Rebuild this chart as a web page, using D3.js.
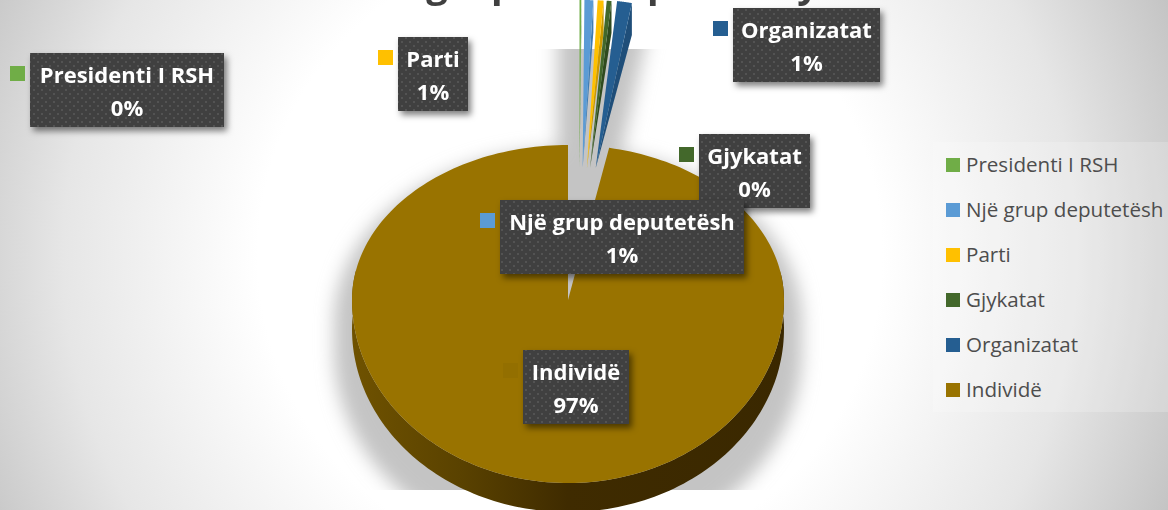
<!DOCTYPE html>
<html>
<head>
<meta charset="utf-8">
<script src="https://cdn.jsdelivr.net/npm/d3@7"></script>
<style>
body { margin: 0; background: #fff; }
svg { display: block; }
text { font-family: "Open Sans", sans-serif; }
</style>
</head>
<body>
<script>
var categories = ["Presidenti I RSH", "Një grup deputetësh", "Parti", "Gjykatat", "Organizatat", "Individë"];
var values = [0.15, 0.75, 0.5, 0.4, 1.25, 96.95];
var palette = ["#70ad47", "#5b9bd5", "#ffc000", "#43682b", "#255e91", "#997300"];
var darkPalette = ["#5a8a39", "#3f7cb3", "#cc9a00", "#2f4a1e", "#1f4e79", "#3f2b00"];
// only the descenders of the title are inside the crop
var titleLetters = ["g", "p", "p", "y"];
var titleLetterX = [437, 503, 659, 808];

var width = 1168, height = 510;
var cx = 568, cy = 300, rx = 216, ryTop = 155, ryBottom = 183, depth = 29;
var sliverRx = 190, sliverRy = 168, sliverY = 168, sliverX = 579, sliverShift = 110;

var labelX = [30, 500, 398, 699, 733, 523];
var labelX2 = [224, 744, 468, 810, 880, 629];
var labelY = [53, 200, 37, 134, 8, 350];
var labelOrder = [0, 2, 4, 3, 1, 5];

var svg = d3.select("body").append("svg").attr("width", width).attr("height", height);
var defs = svg.append("defs");

var bg = defs.append("radialGradient").attr("id", "bg").attr("gradientUnits", "userSpaceOnUse")
	.attr("cx", 570).attr("cy", 255).attr("r", 650);
bg.append("stop").attr("offset", "0.48").attr("stop-color", "#ffffff");
bg.append("stop").attr("offset", "0.78").attr("stop-color", "#e6e6e6");
bg.append("stop").attr("offset", "1").attr("stop-color", "#c4c4c4");

var wallGrad = defs.append("linearGradient").attr("id", "wall").attr("gradientUnits", "userSpaceOnUse")
	.attr("x1", cx - rx).attr("x2", cx + rx).attr("y1", 0).attr("y2", 0);
wallGrad.append("stop").attr("offset", "0").attr("stop-color", "#6f5200");
wallGrad.append("stop").attr("offset", "0.25").attr("stop-color", "#5a4200");
wallGrad.append("stop").attr("offset", "0.5").attr("stop-color", "#3f2b00");
wallGrad.append("stop").attr("offset", "1").attr("stop-color", "#3a2800");

defs.append("filter").attr("id", "pieBlur").attr("x", "-20%").attr("y", "-20%").attr("width", "140%").attr("height", "140%")
	.append("feGaussianBlur").attr("stdDeviation", 9);
defs.append("clipPath").attr("id", "plotClip").append("rect")
	.attr("x", 0).attr("y", 49).attr("width", width).attr("height", 441);

var boxShadow = defs.append("filter").attr("id", "boxShadow").attr("x", "-15%").attr("y", "-15%").attr("width", "130%").attr("height", "140%");
boxShadow.append("feDropShadow").attr("dx", 3).attr("dy", 4).attr("stdDeviation", 3)
	.attr("flood-color", "#000").attr("flood-opacity", 0.5);

var dots = defs.append("pattern").attr("id", "dots").attr("patternUnits", "userSpaceOnUse").attr("width", 8).attr("height", 8);
dots.append("rect").attr("width", 8).attr("height", 8).attr("fill", "#404040");
dots.append("rect").attr("x", 1).attr("y", 1).attr("width", 2).attr("height", 2).attr("fill", "#525252");
dots.append("rect").attr("x", 5).attr("y", 5).attr("width", 2).attr("height", 2).attr("fill", "#525252");

svg.append("rect").attr("width", width).attr("height", height).attr("fill", "url(#bg)");

// legend panel
svg.append("rect").attr("x", 933).attr("y", 142).attr("width", 235).attr("height", 270)
	.attr("fill", "#fff").attr("fill-opacity", 0.2);

var color = d3.scaleOrdinal().domain(categories).range(palette);
var dark = d3.scaleOrdinal().domain(categories).range(darkPalette);
var pie = d3.pie().sort(null).value(function(d){return d.value;}).startAngle(0).endAngle(2 * Math.PI);
var slices = pie(categories.map(function(c, i){return {name: c, value: values[i]};}));
var line = d3.line();

function topRim(a){
	var s = Math.sin(a), c = Math.cos(a);
	return [cx + rx * s, cy - c * (c > 0 ? ryTop : ryBottom)];
}
function angleSteps(a0, a1){
	return d3.range(0, 241).map(function(i){return a0 + (a1 - a0) * i / 240;});
}
function sliverPoints(d){
	var mid = (d.startAngle + d.endAngle) / 2;
	var apex = [sliverX + sliverShift * Math.sin(mid), sliverY];
	var rim = angleSteps(d.startAngle, d.endAngle).map(function(a){
		return [apex[0] + sliverRx * Math.sin(a), apex[1] - sliverRy * Math.cos(a)];
	});
	return {apex: apex, rim: rim};
}

var big = slices[5];
var bigRim = angleSteps(big.startAngle, big.endAngle).map(topRim);
var lowerRim = angleSteps(big.startAngle, big.endAngle).filter(function(a){return Math.cos(a) < 0.2;});

// soft shadow behind the pie, cut off by the plot area, falls downwards
var shadow = svg.append("g").attr("clip-path", "url(#plotClip)")
	.append("g").attr("filter", "url(#pieBlur)");
var shadowPath = "M" + angleSteps(0, 2 * Math.PI).map(function(a){
	var p = topRim(a);
	return [p[0], Math.cos(a) < 0 ? p[1] + depth : p[1]];
}).join("L") + "Z";
shadow.append("path").attr("d", shadowPath).attr("transform", "translate(0,22)")
	.attr("fill", "#c4c4c4").attr("stroke", "#c4c4c4").attr("stroke-width", 36);
slices.slice(0, 5).forEach(function(d){
	var s = sliverPoints(d);
	shadow.append("path").attr("d", line([s.apex].concat(s.rim)) + "Z")
		.attr("fill", "#c4c4c4").attr("stroke", "#c4c4c4").attr("stroke-width", 44).attr("stroke-linejoin", "round");
});

// wall of the large slice
var wallArea = d3.area()
	.x(function(a){return topRim(a)[0];})
	.y0(function(a){return topRim(a)[1];})
	.y1(function(a){return topRim(a)[1] + depth;});
svg.append("path").attr("d", wallArea(lowerRim)).attr("fill", "url(#wall)");

// top of the large slice
svg.append("path").attr("d", line([[cx, cy]].concat(bigRim)) + "Z").attr("fill", color(big.data.name));

// pulled-out slices
slices.slice(0, 5).forEach(function(d){
	var s = sliverPoints(d);
	var end = s.rim[s.rim.length - 1];
	svg.append("path").attr("d", line([s.apex, end, [end[0], end[1] + depth + 3]]) + "Z").attr("fill", dark(d.data.name));
	svg.append("path").attr("d", line([s.apex].concat(s.rim)) + "Z").attr("fill", color(d.data.name));
});

// title descenders
svg.selectAll(".titleLetter").data(titleLetters).enter().append("text")
	.attr("class", "titleLetter")
	.attr("x", function(d, i){return titleLetterX[i];})
	.attr("y", -3)
	.attr("text-anchor", "middle")
	.attr("font-size", 38)
	.attr("font-weight", 700)
	.attr("fill", "#404040")
	.text(function(d){return d;});

// data labels
labelOrder.forEach(function(i){
	var g = svg.append("g");
	var x0 = labelX[i], x1 = labelX2[i], y0 = labelY[i];
	var pct = Math.round(values[i]) + "%";
	g.append("rect").attr("x", x0 - 20).attr("y", y0 + 13).attr("width", 15).attr("height", 15)
		.attr("fill", i === 5 ? "#936f00" : color(categories[i]));
	g.append("rect").attr("x", x0).attr("y", y0).attr("width", x1 - x0).attr("height", 74)
		.attr("fill", "url(#dots)").attr("filter", "url(#boxShadow)");
	g.append("text").attr("x", (x0 + x1) / 2).attr("y", y0 + 30)
		.attr("text-anchor", "middle").attr("font-size", 22).attr("font-weight", 700).attr("fill", "#fff")
		.text(categories[i]);
	g.append("text").attr("x", (x0 + x1) / 2).attr("y", y0 + 63)
		.attr("text-anchor", "middle").attr("font-size", 22).attr("font-weight", 700).attr("fill", "#fff")
		.text(pct);
});

// legend
var legendY = d3.scalePoint().domain(categories).range([165, 390]);
var legend = svg.selectAll(".legendItem").data(categories).enter().append("g")
	.attr("class", "legendItem")
	.attr("transform", function(d){return "translate(946," + legendY(d) + ")";});
legend.append("rect").attr("x", 0).attr("y", -7).attr("width", 14).attr("height", 14)
	.attr("fill", function(d){return color(d);});
legend.append("text").attr("x", 20).attr("y", 7).attr("font-size", 20.6).attr("fill", "#4d4d4d")
	.text(function(d){return d;});
</script>
</body>
</html>
